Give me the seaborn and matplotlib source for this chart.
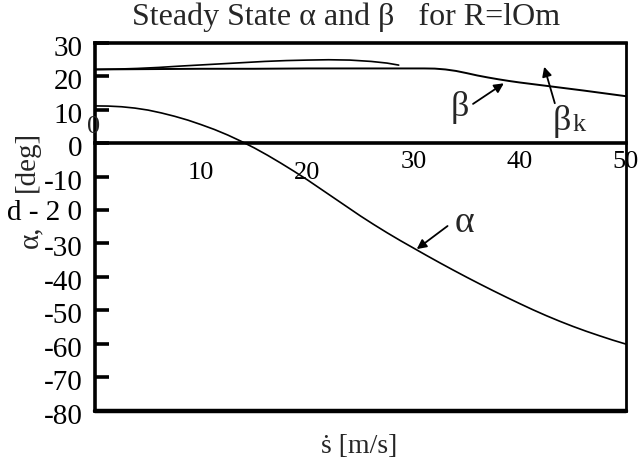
import matplotlib
matplotlib.use("Agg")
import matplotlib.pyplot as plt
import matplotlib.transforms as mtransforms
import seaborn as sns

# Steady-state side-slip angle alpha versus path speed
speed = [0, 1.25, 2.5, 3.75, 5, 6.25, 7.5, 8.75, 10, 11.25, 12.5, 13.75,
         15, 16.25, 17.5, 18.75, 20, 21.25, 22.5, 23.75, 25, 26.25, 27.5,
         28.75, 30, 31.25, 32.5, 33.75, 35, 36.25, 37.5, 38.75, 40, 41.25,
         42.5, 43.75, 45, 46.25, 47.5, 48.75, 50]
alpha = [11.1, 11.05, 10.85, 10.45, 9.85, 9.0, 8.0, 6.85, 5.5, 4.05, 2.4,
         0.55, -1.45, -3.65, -6.0, -8.45, -11.0, -13.7, -16.4, -19.1, -21.8,
         -24.35, -26.8, -29.15, -31.4, -33.65, -35.85, -38.0, -40.1, -42.15,
         -44.15, -46.1, -48.0, -49.85, -51.6, -53.25, -54.8, -56.25, -57.6,
         -58.9, -60.1]

# Steady-state beta
beta_speed = [0, 5, 10, 15, 20, 25, 30, 31, 32, 33, 34, 35, 36, 37, 38, 39,
              40, 41, 42, 44, 46, 48, 50]
beta = [22.0, 22.1, 22.2, 22.2, 22.3, 22.3, 22.3, 22.3, 22.25, 22.0, 21.55,
        20.9, 20.2, 19.6, 19.05, 18.55, 18.1, 17.7, 17.3, 16.5, 15.7, 14.85,
        14.0]

# Upper branch (beta_k)
beta_k_speed = [0, 2, 4, 6, 8, 10, 12, 14, 16, 18, 20, 22, 24, 26, 27.5, 28.6]
beta_k = [22.0, 22.1, 22.3, 22.6, 23.0, 23.35, 23.7, 24.05, 24.4, 24.65,
          24.8, 24.9, 24.8, 24.4, 23.9, 23.3]

x_ticks = [10, 20, 30, 40, 50]
x_tick_labels = ["10", "20", "30", "40", "50"]
y_ticks = [30, 20, 10, 0, -10, -20, -30, -40, -50, -60, -70, -80]
y_tick_labels = ["30", "20", "10", "0", "-10", "d - 2 0", "-30", "-40",
                 "-50", "-60", "-70", "-80"]

sns.set_theme(style="white")
plt.rcParams["font.family"] = ["Liberation Serif", "DejaVu Serif"]

fig = plt.figure(figsize=(6.43, 4.67), dpi=100)
ax = fig.add_axes([0.1477, 0.1206, 0.8258, 0.788])

sns.lineplot(x=speed, y=alpha, ax=ax, color="black", linewidth=1.2)
sns.lineplot(x=beta_speed, y=beta, ax=ax, color="black", linewidth=1.4)
sns.lineplot(x=beta_k_speed, y=beta_k, ax=ax, color="black", linewidth=1.2)

ax.set_xlim(0, 50)
ax.set_ylim(-80, 30)

# frame: heavy box, x axis running along zero
for side in ["top", "left"]:
    ax.spines[side].set_linewidth(2.6)
    ax.spines[side].set_color("black")
ax.spines["right"].set_linewidth(2.0)
ax.spines["right"].set_color("black")
ax.spines["bottom"].set_position(("data", 0))
ax.spines["bottom"].set_linewidth(2.6)
ax.spines["bottom"].set_color("black")
ax.axhline(-80, color="black", linewidth=3.2, clip_on=False, zorder=5)

ax.set_xticks(x_ticks, labels=x_tick_labels)
ax.tick_params(axis="x", direction="out", length=6, width=2, pad=0,
               labelsize=19, colors="black")
ax.set_yticks(y_ticks, labels=y_tick_labels)
ax.tick_params(axis="y", direction="in", length=10, width=2.6, pad=9,
               labelsize=21, colors="black", left=True)

# first tick is a thin crossing mark; first two labels sit lower
xt = ax.xaxis.get_major_ticks()
xt[0].tick1line.set_marker("|")
xt[0].tick1line.set_markersize(18)
xt[0].tick1line.set_markeredgewidth(1.0)
down = mtransforms.ScaledTranslation(0, -8 / 72, fig.dpi_scale_trans)
for lab in ax.get_xticklabels()[:2]:
    lab.set_transform(lab.get_transform() + down)
ydown = mtransforms.ScaledTranslation(0, -2.2 / 72, fig.dpi_scale_trans)
for i, lab in enumerate(ax.get_yticklabels()):
    if y_ticks[i] != -20:
        lab.set_transform(lab.get_transform() + ydown)

# origin label of the speed axis
ax.text(-0.12, 4.8, "0", ha="center", va="center", fontsize=19)

# vertical axis title, in two pieces around the -20 label
ax.set_ylabel("[deg]", fontsize=21, rotation=90)
ax.yaxis.label.set_verticalalignment("center")
ax.yaxis.label.set_horizontalalignment("center")
ax.yaxis.set_label_coords(-0.129, 0.6785)
ax.text(-0.1224, 0.473, "α,", transform=ax.transAxes, rotation=90,
        ha="center", va="center", fontsize=21)

ax.set_xlabel("ṡ [m/s]", fontsize=20)
ax.xaxis.label.set_verticalalignment("center")
ax.xaxis.set_label_coords(0.497, -0.096)

fig.text(0.538, 0.962, "Steady State α and β   for R=lOm",
         ha="center", va="center", fontsize=23)

arrow = dict(arrowstyle="-|>", color="black", lw=1.3, mutation_scale=14,
             shrinkA=0, shrinkB=0)
ax.annotate("", xy=(38.5, 17.85), xytext=(35.6, 11.7), arrowprops=arrow)
ax.annotate("", xy=(42.3, 22.8), xytext=(43.3, 11.9), arrowprops=arrow)
ax.annotate("", xy=(30.3, -31.7), xytext=(33.2, -24.8), arrowprops=arrow)

ax.text(34.4, 10.6, "β", ha="center", va="center", fontsize=26)
ax.text(44.0, 6.3, "β", ha="center", va="center", fontsize=26)
ax.text(45.6, 5.3, "k", ha="center", va="center", fontsize=19)
ax.text(34.8, -23.8, "α", ha="center", va="center", fontsize=27)

fig.savefig("out.png", dpi=100)
